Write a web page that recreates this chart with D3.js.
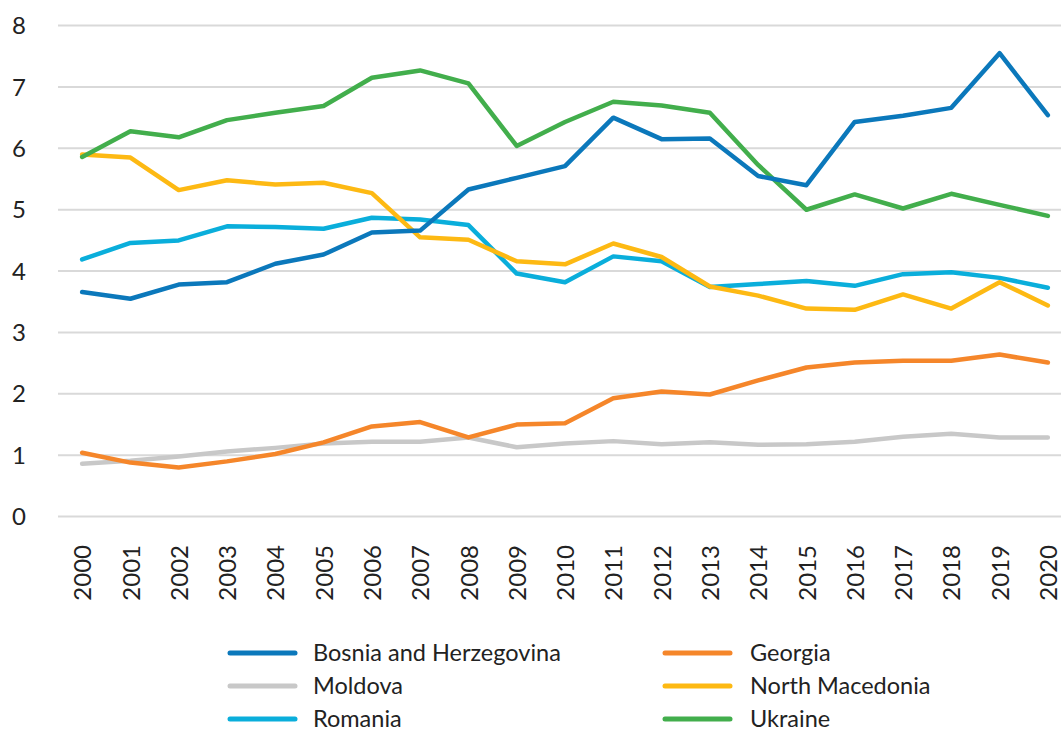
<!DOCTYPE html>
<html>
<head>
<meta charset="utf-8">
<script src="https://cdn.jsdelivr.net/npm/d3@7"></script>
<style>
    body { margin: 0; background: #fff; }
    text { font-family: Lato, "Open Sans", sans-serif; fill: #222; }
</style>
</head>
<body>
<div id="chart"></div>
<script>
// data
let years = ["2000", "2001", "2002", "2003", "2004", "2005", "2006", "2007", "2008", "2009", "2010",
    "2011", "2012", "2013", "2014", "2015", "2016", "2017", "2018", "2019", "2020"];
let yTicks = [0, 1, 2, 3, 4, 5, 6, 7, 8];

let bosnia = [3.65, 3.54, 3.77, 3.81, 4.11, 4.26, 4.62, 4.65, 5.32, 5.51, 5.70,
    6.49, 6.14, 6.15, 5.54, 5.39, 6.42, 6.52, 6.65, 7.54, 6.53];
let georgia = [1.03, 0.87, 0.79, 0.89, 1.01, 1.20, 1.46, 1.53, 1.28, 1.49, 1.51,
    1.92, 2.03, 1.98, 2.21, 2.42, 2.50, 2.53, 2.53, 2.63, 2.50];
let moldova = [0.85, 0.90, 0.97, 1.05, 1.11, 1.18, 1.21, 1.21, 1.28, 1.12, 1.18,
    1.22, 1.17, 1.20, 1.16, 1.17, 1.21, 1.29, 1.34, 1.28, 1.28];
let northMacedonia = [5.89, 5.84, 5.31, 5.47, 5.40, 5.43, 5.26, 4.54, 4.50, 4.15, 4.10,
    4.44, 4.22, 3.74, 3.59, 3.38, 3.36, 3.61, 3.38, 3.81, 3.43];
let romania = [4.18, 4.45, 4.49, 4.72, 4.71, 4.68, 4.86, 4.83, 4.74, 3.95, 3.81,
    4.23, 4.15, 3.73, 3.78, 3.83, 3.75, 3.94, 3.97, 3.88, 3.72];
let ukraine = [5.85, 6.27, 6.17, 6.45, 6.57, 6.68, 7.14, 7.26, 7.05, 6.03, 6.42,
    6.75, 6.69, 6.57, 5.72, 4.99, 5.24, 5.01, 5.25, 5.07, 4.89];

let seriesNames = ["Bosnia and Herzegovina", "Georgia", "Moldova", "North Macedonia", "Romania", "Ukraine"];
let seriesValues = [bosnia, georgia, moldova, northMacedonia, romania, ukraine];
let seriesColors = ["#0b78bb", "#f5862a", "#c8c8c8", "#fdb913", "#0aaedb", "#42ae4c"];
// draw order: the reference paints Ukraine on top of the others
let drawOrder = [2, 1, 4, 3, 5, 0];

let width = 1061, height = 736;
let plot = {left: 58, right: 1072, top: 25, bottom: 516};

let svg = d3.select("#chart").append("svg")
    .attr("width", width)
    .attr("height", height);

let x = d3.scalePoint()
    .domain(years)
    .range([plot.left, plot.right])
    .padding(0.5);

let y = d3.scaleLinear()
    .domain([0, 8])
    .range([plot.bottom, plot.top]);

////////// grid + y axis //////////
let yAxis = svg.append("g")
    .attr("transform", "translate(" + plot.left + ",0)")
    .call(d3.axisLeft(y).tickValues(yTicks).tickSize(-(plot.right - plot.left)).tickPadding(30));
yAxis.select(".domain").remove();
yAxis.selectAll(".tick line").attr("stroke", "#d9d9d9").attr("stroke-width", 2);
yAxis.selectAll(".tick text")
    .attr("text-anchor", "middle")
    .attr("x", -39)
    .attr("dy", "0.36em")
    .style("font-size", "24px");

////////// x axis labels //////////
let xAxis = svg.append("g")
    .attr("transform", "translate(0," + plot.bottom + ")")
    .call(d3.axisBottom(x).tickSize(0));
xAxis.select(".domain").remove();
xAxis.selectAll(".tick text")
    .attr("transform", "rotate(-90)")
    .attr("text-anchor", "end")
    .attr("x", -29)
    .attr("y", 0)
    .attr("dy", "0.36em")
    .style("font-size", "24px");

////////// lines //////////
let line = d3.line()
    .x((d, i) => x(years[i]))
    .y(d => y(d));

svg.append("g")
    .selectAll("path")
    .data(drawOrder)
    .enter()
    .append("path")
    .attr("d", k => line(seriesValues[k]))
    .attr("fill", "none")
    .attr("stroke", k => seriesColors[k])
    .attr("stroke-width", 4.5)
    .attr("stroke-linejoin", "round")
    .attr("stroke-linecap", "round");

////////// legend //////////
// rows pulled up a little so the last row is not cut by the bottom edge
let legend = svg.append("g").attr("class", "legend");
let legendCols = [230, 665];
let legendRows = [653, 686, 719];

let item = legend.selectAll("g")
    .data(seriesNames)
    .enter()
    .append("g")
    .attr("transform", (d, i) => "translate(" + legendCols[i % 2] + "," + legendRows[Math.floor(i / 2)] + ")");

item.append("line")
    .attr("x1", 0)
    .attr("x2", 65)
    .attr("stroke", (d, i) => seriesColors[i])
    .attr("stroke-width", 5)
    .attr("stroke-linecap", "round");

item.append("text")
    .attr("x", (d, i) => i % 2 === 0 ? 83 : 85)
    .attr("dy", "0.36em")
    .style("font-size", "23.5px")
    .text(d => d);
</script>
</body>
</html>
